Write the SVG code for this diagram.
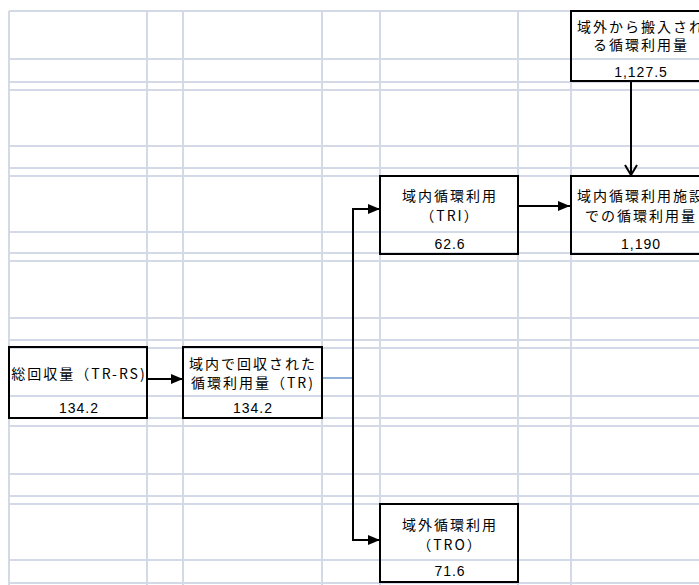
<svg xmlns="http://www.w3.org/2000/svg" width="699" height="585" viewBox="0 0 699 585">
  <style>
    .grid line { stroke: #d3d9e6; stroke-width: 2; }
    .box { fill: none; stroke: #000; stroke-width: 2; }
    .lbl { font-family: "Noto Sans CJK JP", "Liberation Sans", sans-serif; font-size: 14px; letter-spacing: 2px; fill: #000; text-anchor: middle; }
    .num { font-family: "Liberation Sans", "Noto Sans CJK JP", sans-serif; font-size: 14px; letter-spacing: 1px; fill: #000; text-anchor: middle; }
    .conn { stroke: #000; stroke-width: 2; fill: none; }
  </style>
  <defs>
    <marker id="tri" markerUnits="userSpaceOnUse" markerWidth="12" markerHeight="10" refX="12" refY="5" orient="auto">
      <path d="M0,0 L12,5 L0,10 Z" fill="#000"/>
    </marker>
    <marker id="vee" markerUnits="userSpaceOnUse" markerWidth="14" markerHeight="14" refX="11" refY="7" orient="auto">
      <path d="M1,1 L11,7 L1,13" fill="none" stroke="#000" stroke-width="2"/>
    </marker>
  </defs>
  <rect width="699" height="585" fill="#fff"/>

  <!-- worksheet grid -->
  <g class="grid" id="grid">
    <line x1="9" y1="11" x2="699" y2="11"/>
    <line x1="9" y1="59" x2="699" y2="59"/>
    <line x1="9" y1="82" x2="699" y2="82"/>
    <line x1="9" y1="90" x2="699" y2="90"/>
    <line x1="9" y1="146" x2="699" y2="146"/>
    <line x1="9" y1="168" x2="699" y2="168"/>
    <line x1="9" y1="176" x2="699" y2="176"/>
    <line x1="9" y1="232" x2="699" y2="232"/>
    <line x1="9" y1="253" x2="699" y2="253"/>
    <line x1="9" y1="261" x2="699" y2="261"/>
    <line x1="9" y1="318" x2="699" y2="318"/>
    <line x1="9" y1="340" x2="699" y2="340"/>
    <line x1="9" y1="348" x2="699" y2="348"/>
    <line x1="9" y1="396" x2="699" y2="396"/>
    <line x1="9" y1="418" x2="699" y2="418"/>
    <line x1="9" y1="426" x2="699" y2="426"/>
    <line x1="9" y1="474" x2="699" y2="474"/>
    <line x1="9" y1="496" x2="699" y2="496"/>
    <line x1="9" y1="504" x2="699" y2="504"/>
    <line x1="9" y1="560" x2="699" y2="560"/>
    <line x1="9" y1="583" x2="699" y2="583"/>
    <line x1="9" y1="11" x2="9" y2="585"/>
    <line x1="147" y1="11" x2="147" y2="585"/>
    <line x1="183" y1="11" x2="183" y2="585"/>
    <line x1="322" y1="11" x2="322" y2="585"/>
    <line x1="380" y1="11" x2="380" y2="585"/>
    <line x1="518" y1="11" x2="518" y2="585"/>
    <line x1="571" y1="11" x2="571" y2="585"/>
  </g>

  <!-- connectors -->
  <g id="connectors">
    <line class="conn" x1="147" y1="379" x2="183" y2="379" marker-end="url(#tri)"/>
    <line x1="322" y1="378" x2="353" y2="378" stroke="#4a7ebb" stroke-width="1.2"/>
    <polyline class="conn" points="353,540 353,209 380,209" marker-end="url(#tri)"/>
    <polyline class="conn" points="353,378 353,540 380,540" marker-end="url(#tri)"/>
    <line class="conn" x1="518" y1="206" x2="570" y2="206" marker-end="url(#tri)"/>
    <line class="conn" x1="631" y1="81" x2="631" y2="175" marker-end="url(#vee)"/>
  </g>

  <!-- nodes -->
  <g id="node-total">
    <rect class="box" x="9" y="347" width="138" height="71"/>
    <text class="lbl" x="79" y="379">総回収量（TR-RS)</text>
    <text class="num" x="79" y="413">134.2</text>
  </g>
  <g id="node-tr">
    <rect class="box" x="183" y="347" width="139" height="71"/>
    <text class="lbl" x="253" y="369">域内で回収された<tspan x="253" dy="19">循環利用量（TR)</tspan></text>
    <text class="num" x="253" y="413">134.2</text>
  </g>
  <g id="node-tri">
    <rect class="box" x="380" y="176" width="138" height="78"/>
    <text class="lbl" x="450" y="201">域内循環利用<tspan x="450" dy="20">（TRI）</tspan></text>
    <text class="num" x="450" y="249">62.6</text>
  </g>
  <g id="node-tro">
    <rect class="box" x="380" y="504" width="138" height="78"/>
    <text class="lbl" x="450" y="530">域外循環利用<tspan x="450" dy="20">（TRO）</tspan></text>
    <text class="num" x="450" y="576">71.6</text>
  </g>
  <g id="node-facility">
    <rect class="box" x="571" y="176" width="140" height="78"/>
    <text class="lbl" x="641" y="201">域内循環利用施設<tspan x="641" dy="20">での循環利用量</tspan></text>
    <text class="num" x="641" y="249">1,190</text>
  </g>
  <g id="node-import">
    <rect class="box" x="571" y="11" width="140" height="70"/>
    <text class="lbl" x="641" y="32">域外から搬入され<tspan x="641" dy="18">る循環利用量</tspan></text>
    <text class="num" x="641" y="77">1,127.5</text>
  </g>
</svg>
